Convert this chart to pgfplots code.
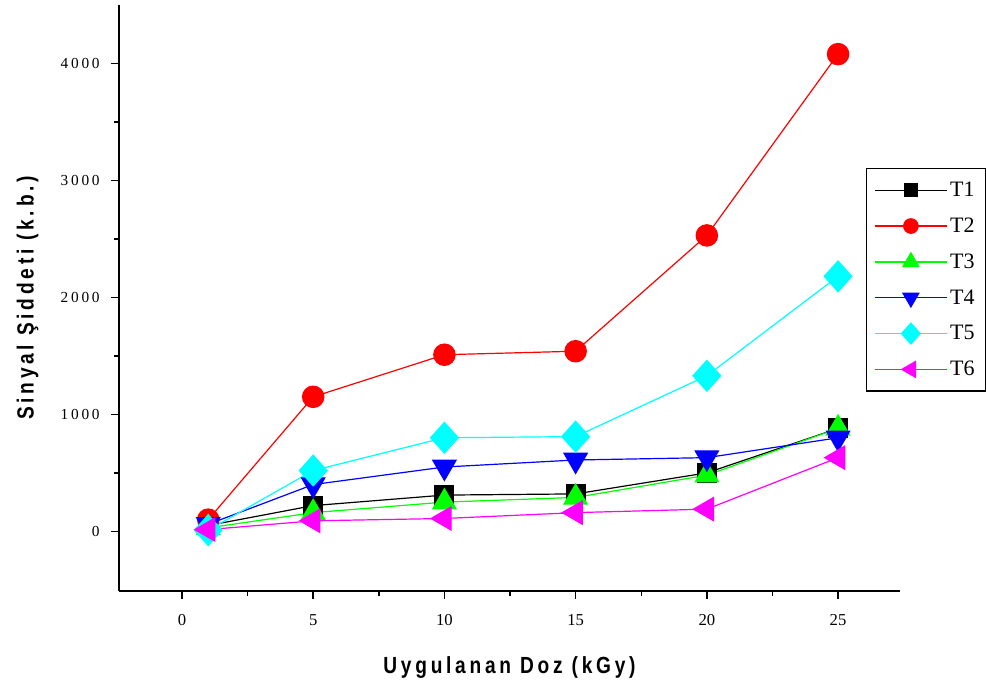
\documentclass[border=0pt]{standalone}
\usepackage{pgfplots}
\pgfplotsset{compat=1.18}
\usepackage{fontspec}
\setmainfont{Liberation Serif}
\newfontfamily\labfont[FakeStretch=0.82,LetterSpace=16]{Liberation Sans}
\newfontfamily\ytfont[LetterSpace=18]{Liberation Serif}
\definecolor{cT2}{RGB}{255,0,0}
\definecolor{cT3}{RGB}{0,255,0}
\definecolor{cT4}{RGB}{0,0,255}
\definecolor{cT5}{RGB}{0,255,255}
\definecolor{cT6}{RGB}{255,0,255}
\begin{document}
\begin{tikzpicture}
\begin{axis}[name=ax, scale only axis, width=585.75pt, height=439.5pt,
  xmin=-2.4, xmax=27.36, ymin=-510, ymax=4500,
  axis x line*=bottom, axis y line*=left,
  axis line style={line width=1.3pt},
  xtick={0,5,...,25}, ytick={0,1000,...,4000},
  minor x tick num=1, minor y tick num=1,
  tick align=outside,
  major tick length=6pt, minor tick length=3.5pt,
  every tick/.style={line width=1.1pt, black},
  /pgf/number format/1000 sep={},
  /pgf/number format/assume math mode=true,
  xticklabel style={font=\fontsize{12.5}{14}\selectfont, yshift=-8pt},
  yticklabel style={font=\ytfont\fontsize{11.5}{13}\selectfont, xshift=-5pt},
  xlabel={Uygulanan Doz (kGy)}, ylabel={Sinyal Şiddeti (k.b.)},
  xlabel style={font=\labfont\bfseries\fontsize{17.5}{20}\selectfont, at={(rel axis cs:0.5,-0.13)}, anchor=center},
  ylabel style={font=\labfont\bfseries\fontsize{17.5}{20}\selectfont, at={(rel axis cs:-0.117,0.5)}, anchor=center},
  legend style={at={(rel axis cs:0.956,0.722)}, anchor=north west, draw=black, line width=1pt,
    font=\fontsize{16.5}{18}\selectfont, row sep=10.5pt, inner xsep=6pt, inner ysep=8pt},
  legend cell align=left,
  legend image code/.code={\draw[#1, every mark/.append style={scale=0.68}, mark repeat=2, mark phase=2] plot coordinates {(0pt,0pt) (27pt,0pt) (54pt,0pt)};},
]
\addplot[color=black, line width=0.9pt, mark=square*, mark size=7pt] coordinates {(1,50) (5,220) (10,310) (15,320) (20,500) (25,880)};
\addlegendentry{T1}
\addplot[color=cT2, line width=0.9pt, mark=*, mark size=8pt] coordinates {(1,100) (5,1150) (10,1510) (15,1540) (20,2530) (25,4080)};
\addlegendentry{T2}
\addplot[color=cT3, line width=0.9pt, mark=triangle*, mark size=10pt] coordinates {(1,30) (5,160) (10,250) (15,290) (20,480) (25,880)};
\addlegendentry{T3}
\addplot[color=cT4, line width=0.9pt, mark=triangle*, mark size=10pt, mark options={rotate=180}] coordinates {(1,60) (5,400) (10,550) (15,610) (20,630) (25,800)};
\addlegendentry{T4}
\addplot[color=cT5, line width=0.9pt, mark=diamond*, mark size=11.5pt, mark options={xscale=1.2}] coordinates {(1,10) (5,520) (10,800) (15,810) (20,1330) (25,2180)};
\addlegendentry{T5}
\addplot[color=cT6, line width=0.9pt, mark=triangle*, mark size=10pt, mark options={rotate=90}] coordinates {(1,15) (5,90) (10,110) (15,160) (20,190) (25,630)};
\addlegendentry{T6}
\end{axis}
\pgfresetboundingbox
\path ([xshift=-89.25pt,yshift=-69.75pt]ax.south west) rectangle ([xshift=64.5pt,yshift=3.75pt]ax.north east);
\end{tikzpicture}
\end{document}
